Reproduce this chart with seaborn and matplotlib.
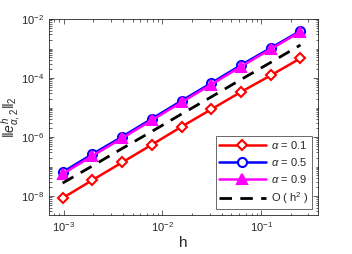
import numpy as np
import pandas as pd
import matplotlib
matplotlib.use('Agg')
import matplotlib.pyplot as plt
from matplotlib.ticker import LogLocator, NullFormatter
import seaborn as sns

# step sizes h = 2^-10 ... 2^-2
h = [1/1024, 1/512, 1/256, 1/128, 1/64, 1/32, 1/16, 1/8, 1/4]

# log10 of the error
log_err_01 = [-8.07, -7.46, -6.86, -6.26, -5.65, -5.06, -4.47, -3.91, -3.33]
log_err_05 = [-7.19, -6.58, -5.99, -5.38, -4.77, -4.17, -3.56, -2.98, -2.40]
log_err_09 = [-7.25, -6.64, -6.04, -5.43, -4.82, -4.22, -3.61, -3.02, -2.43]
log_ref_h2 = [-7.56, -6.98, -6.39, -5.81, -5.22, -4.64, -4.05, -3.47, -2.88]

labels = [r'$\alpha$ = 0.1', r'$\alpha$ = 0.5', r'$\alpha$ = 0.9', r'O ( h$^2$ )']

df = pd.DataFrame({
    'h': h * 4,
    'err': [10**v for v in log_err_01 + log_err_05 + log_err_09 + log_ref_h2],
    'series': sum([[l] * len(h) for l in labels], []),
})

sns.set_style('ticks')
plt.rcParams['font.family'] = ['Liberation Sans', 'DejaVu Sans']
plt.rcParams['mathtext.fontset'] = 'custom'
plt.rcParams['mathtext.rm'] = 'Liberation Sans'
plt.rcParams['mathtext.it'] = 'Liberation Sans:italic'

fig = plt.figure(figsize=(3.52, 2.54), dpi=100)
ax = fig.add_axes([0.139, 0.154, 0.764, 0.771])

styles = {
    labels[0]: dict(color='red', marker='D', mfc='white', mec='red', ms=5.5, mew=1.5, ls='-'),
    labels[1]: dict(color='blue', marker='o', mfc='white', mec='blue', ms=6.5, mew=1.5, ls='-'),
    labels[2]: dict(color='magenta', marker='^', mfc='magenta', mec='magenta', ms=6.5, mew=1.5, ls='-'),
    labels[3]: dict(color='black', marker=None, ls=(0, (4.5, 3)), lw=2),
}

for lab in labels:
    st = dict(styles[lab])
    sub = df[df['series'] == lab]
    lw = st.pop('lw', 1.8)
    sns.lineplot(data=sub, x='h', y='err', ax=ax, label=lab, lw=lw, **st)

ax.set_xscale('log')
ax.set_yscale('log')
ax.set_xlim(7.1e-4, 0.375)
ax.set_ylim(2.3e-9, 1e-2)
ax.set_yticks([1e-8, 1e-6, 1e-4, 1e-2])
ax.set_xticks([1e-3, 1e-2, 1e-1])
ax.xaxis.set_minor_locator(LogLocator(base=10, subs=np.arange(2, 10), numticks=30))
ax.yaxis.set_minor_locator(LogLocator(base=10, subs=np.arange(1, 10), numticks=30))
ax.xaxis.set_minor_formatter(NullFormatter())
ax.yaxis.set_minor_formatter(NullFormatter())

for s in ax.spines.values():
    s.set_color('#262626')
    s.set_linewidth(0.6)
ax.tick_params(which='both', direction='in', top=True, right=True, colors='#262626', labelsize=8, width=0.5)
ax.tick_params(which='major', length=3.5)
ax.tick_params(which='minor', length=1.8)

ax.set_xlabel('h', fontsize=11, labelpad=2)
ax.set_ylabel(r'$\|e^h_{\alpha,2}\|_2$', fontsize=10)
ax.yaxis.set_label_coords(-0.098, 0.5)

leg = ax.legend(loc='lower right', fontsize=8, handlelength=4.2, frameon=True, fancybox=False,
                edgecolor='#262626', borderpad=0.3, labelspacing=0.45, handletextpad=0.5,
                borderaxespad=0.5, markerscale=1.0)
leg.get_frame().set_linewidth(0.6)

fig.savefig('out.png', dpi=100)
